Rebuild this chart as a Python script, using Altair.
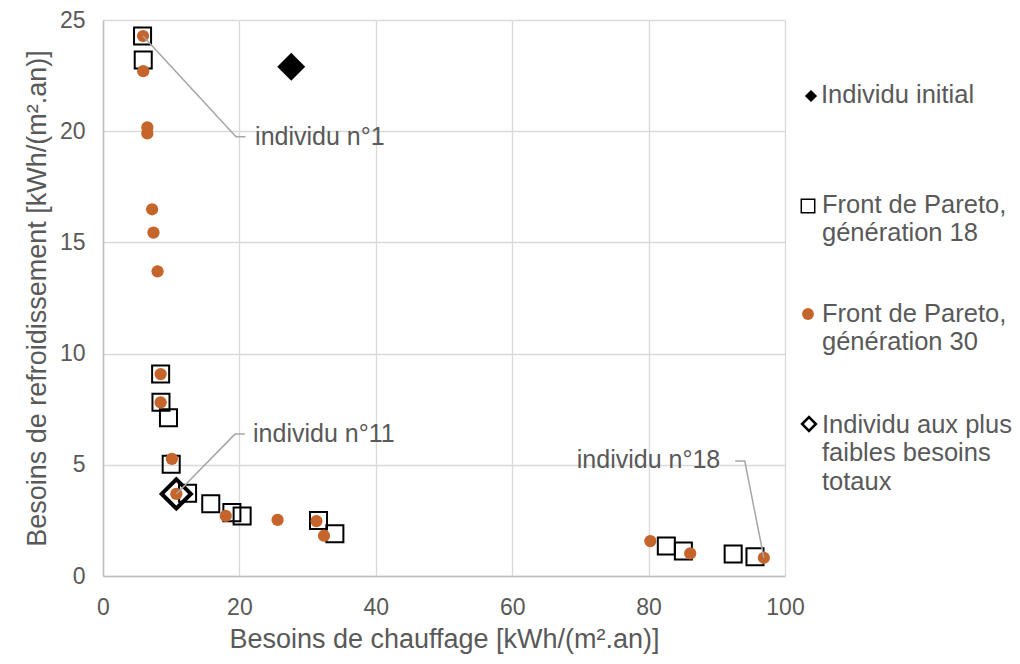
import altair as alt
import pandas as pd

FONT = "Liberation Sans"
GRAY_TXT = "#595959"
ORANGE = "#C5652B"

# Front de Pareto, génération 18 (squares)
g18_x = [5.8, 5.9, 8.45, 8.5, 9.6, 10.0, 12.4, 15.8, 18.9, 20.4, 31.6, 34.0, 82.6, 85.1, 92.4, 95.6]
g18_y = [24.28, 23.2, 9.08, 7.81, 7.12, 5.02, 3.72, 3.25, 2.85, 2.70, 2.50, 1.90, 1.35, 1.12, 0.99, 0.87]

# Front de Pareto, génération 30 (dots)
g30_x = [5.87, 5.9, 6.5, 6.5, 7.2, 7.4, 8.0, 8.45, 8.45, 10.1, 10.75, 18.0, 25.6, 31.3, 32.4, 80.25, 86.1, 96.9]
g30_y = [24.28, 22.7, 20.17, 19.9, 16.49, 15.44, 13.7, 9.08, 7.81, 5.27, 3.69, 2.70, 2.52, 2.47, 1.81, 1.57, 1.02, 0.82]

# Individu initial
init_x = [27.6]
init_y = [22.9]

# Individu aux plus faibles besoins totaux
best_x = [10.75]
best_y = [3.69]

# Annotations (label, leader line path)
ann_labels = ["individu n°1", "individu n°11", "individu n°18"]
ann_text_x = [22.3, 22.0, 90.5]
ann_text_y = [19.75, 6.4, 5.2]
ann_align = ["left", "left", "right"]
lead_id = ["a", "a", "a", "b", "b", "b", "c", "c", "c"]
lead_ord = [0, 1, 2, 0, 1, 2, 0, 1, 2]
lead_x = [5.87, 19.5, 20.9, 10.75, 19.35, 20.8, 96.9, 94.1, 92.7]
lead_y = [24.28, 19.75, 19.75, 3.69, 6.38, 6.38, 0.82, 5.17, 5.17]

# Legend
leg_lines = ["Individu initial", "Front de Pareto,", "génération 18", "Front de Pareto,",
             "génération 30", "Individu aux plus", "faibles besoins", "totaux"]

xs = alt.Scale(domain=[0, 100], nice=False)
ys = alt.Scale(domain=[0, 25], nice=False)

X = alt.X("x:Q", scale=xs, title="Besoins de chauffage [kWh/(m².an)]",
          axis=alt.Axis(values=[0, 20, 40, 60, 80, 100]))
Y = alt.Y("y:Q", scale=ys, title="Besoins de refroidissement [kWh/(m².an)]",
          axis=alt.Axis(values=[0, 5, 10, 15, 20, 25]))

sq = alt.Chart(pd.DataFrame({"x": g18_x, "y": g18_y})).mark_point(
    shape="square", filled=False, stroke="black", strokeWidth=2, size=290, opacity=1
).encode(x=X, y=Y)

dots = alt.Chart(pd.DataFrame({"x": g30_x, "y": g30_y})).mark_circle(
    color=ORANGE, size=150, opacity=1
).encode(x="x:Q", y="y:Q")

best = alt.Chart(pd.DataFrame({"x": best_x, "y": best_y})).mark_point(
    shape="diamond", filled=False, stroke="black", strokeWidth=4, size=850, opacity=1
).encode(x="x:Q", y="y:Q")

init = alt.Chart(pd.DataFrame({"x": init_x, "y": init_y})).mark_point(
    shape="diamond", filled=True, color="black", size=780, opacity=1
).encode(x="x:Q", y="y:Q")

leads = alt.Chart(pd.DataFrame({"id": lead_id, "o": lead_ord, "x": lead_x, "y": lead_y})).mark_line(
    color="#A6A6A6", strokeWidth=1.5
).encode(x="x:Q", y="y:Q", detail="id:N", order="o:Q")

ann_df = pd.DataFrame({"t": ann_labels, "x": ann_text_x, "y": ann_text_y, "a": ann_align})
ann_left = alt.Chart(ann_df[ann_df.a == "left"]).mark_text(
    align="left", baseline="middle", font=FONT, fontSize=25, color=GRAY_TXT
).encode(x="x:Q", y="y:Q", text="t:N")
ann_right = alt.Chart(ann_df[ann_df.a == "right"]).mark_text(
    align="right", baseline="middle", font=FONT, fontSize=25, color=GRAY_TXT
).encode(x="x:Q", y="y:Q", text="t:N")

# legend in pixel coordinates (relative to plot area)
leg_txt_df = pd.DataFrame({
    "t": leg_lines,
    "px": [718, 719, 719, 719, 719, 719, 719, 719],
    "py": [75, 185, 213, 294, 322, 405, 433, 462],
})
leg_txt = alt.Chart(leg_txt_df).mark_text(
    align="left", baseline="middle", font=FONT, fontSize=25.5, color=GRAY_TXT
).encode(x=alt.X("px:Q", scale=None), y=alt.Y("py:Q", scale=None), text="t:N")

leg_init = alt.Chart(pd.DataFrame({"px": [708], "py": [76]})).mark_point(
    shape="diamond", filled=True, color="black", size=150, opacity=1
).encode(x=alt.X("px:Q", scale=None), y=alt.Y("py:Q", scale=None))
leg_sq = alt.Chart(pd.DataFrame({"px": [705], "py": [186]})).mark_point(
    shape="square", filled=False, stroke="black", strokeWidth=1.5, size=180, opacity=1
).encode(x=alt.X("px:Q", scale=None), y=alt.Y("py:Q", scale=None))
leg_dot = alt.Chart(pd.DataFrame({"px": [705], "py": [294]})).mark_circle(
    color=ORANGE, size=140, opacity=1
).encode(x=alt.X("px:Q", scale=None), y=alt.Y("py:Q", scale=None))
leg_best = alt.Chart(pd.DataFrame({"px": [706], "py": [404]})).mark_point(
    shape="diamond", filled=False, stroke="black", strokeWidth=2.5, size=190, opacity=1
).encode(x=alt.X("px:Q", scale=None), y=alt.Y("py:Q", scale=None))

chart = alt.layer(
    sq, dots, best, init, leads, ann_left, ann_right,
    leg_txt, leg_init, leg_sq, leg_dot, leg_best
).properties(
    width=682, height=556,
    autosize=alt.AutoSizeParams(type="none"),
    padding={"left": 95, "top": 12, "right": 227, "bottom": 80},
).configure_view(stroke=None).configure_axis(
    grid=True, gridColor="#D9D9D9", gridWidth=1.3,
    domainColor="#BFBFBF", domainWidth=1.5,
    ticks=False, tickSize=0,
    labelFont=FONT, labelFontSize=23, labelColor=GRAY_TXT,
    titleFont=FONT, titleFontSize=27, titleColor=GRAY_TXT, titleFontWeight="normal",
).configure_axisX(labelPadding=20, titlePadding=7, labelFlush=False).configure_axisY(
    labelPadding=18, titlePadding=8
)

chart.save("out.html", embed_options={"renderer": "svg", "actions": False})
